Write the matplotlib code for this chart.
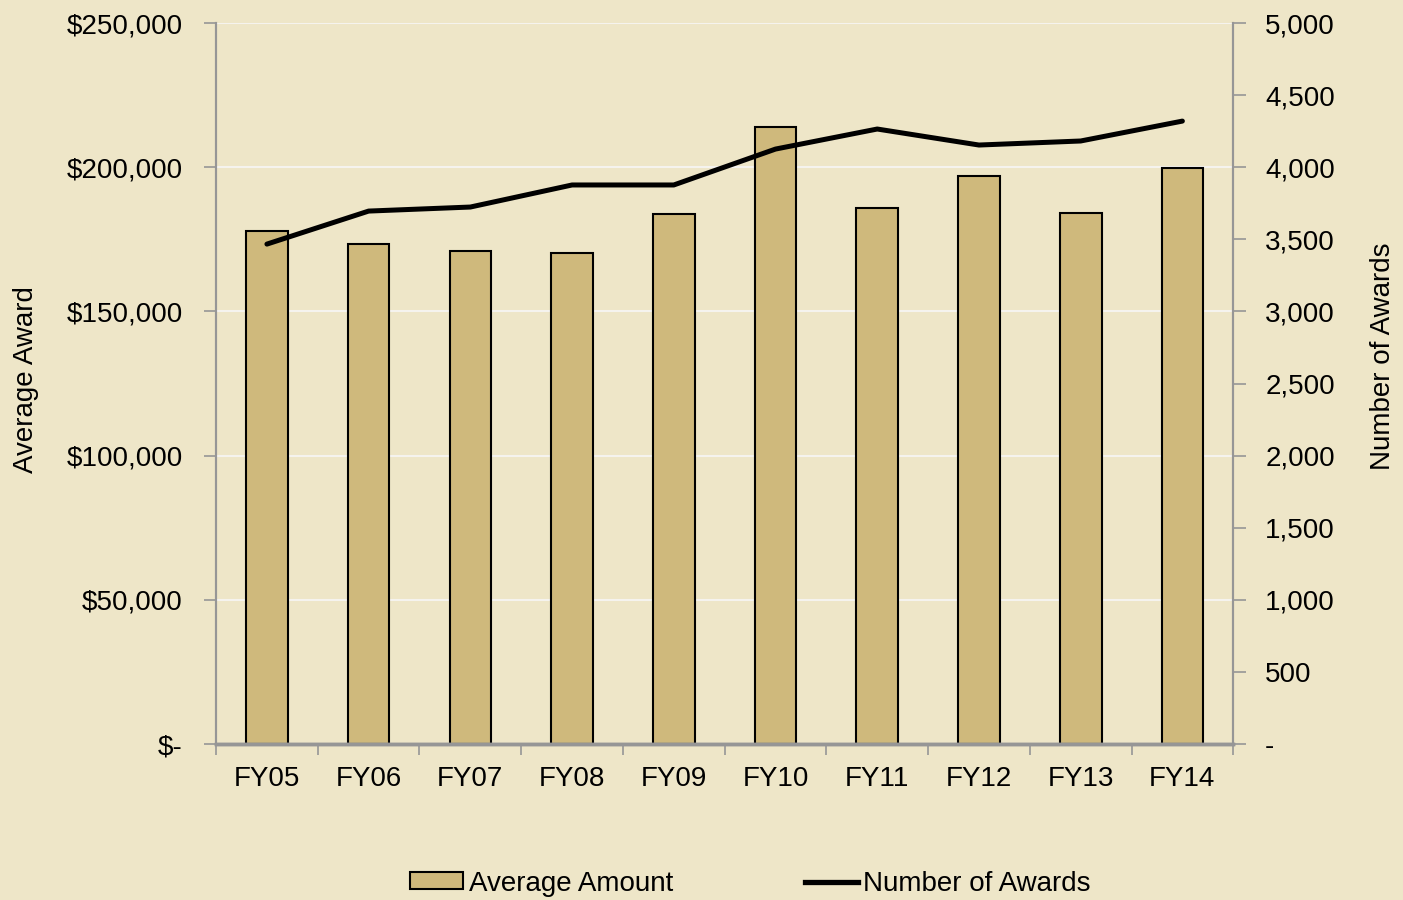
import matplotlib
matplotlib.use("Agg")
import matplotlib.pyplot as plt
from matplotlib.ticker import FuncFormatter, MultipleLocator, FixedLocator
from matplotlib.patches import Patch
from matplotlib.lines import Line2D

years = ["FY05", "FY06", "FY07", "FY08", "FY09", "FY10", "FY11", "FY12", "FY13", "FY14"]
avg_amount = [178000, 173300, 171000, 170300, 183800, 214000, 185900, 197000, 184200, 199800]
num_awards = [3467, 3696, 3724, 3877, 3877, 4126, 4265, 4154, 4182, 4320]

bg = "#EEE6C8"
bar_color = "#CFB97C"
axis_gray = "#969696"

plt.rcParams["font.family"] = ["Liberation Sans", "DejaVu Sans"]
plt.rcParams["font.size"] = 20

fig = plt.figure(figsize=(14.03, 9), dpi=100, facecolor=bg)
ax = fig.add_axes([0.154, 0.1733, 0.725, 0.8011])
ax.set_facecolor(bg)
ax2 = ax.twinx()

x = list(range(len(years)))
ax.bar(x, avg_amount, width=0.41, color=bar_color, edgecolor="black", linewidth=1.5, zorder=2)
ax2.plot(x, num_awards, color="black", linewidth=3.6, solid_capstyle="round", zorder=3)

ax.set_xlim(-0.5, len(years) - 0.5)
ax.set_ylim(0, 250000)
ax2.set_ylim(0, 5000)

ax.yaxis.set_major_locator(MultipleLocator(50000))
ax.yaxis.set_major_formatter(FuncFormatter(lambda v, p: "$-" if v == 0 else f"${v:,.0f}"))
ax2.yaxis.set_major_locator(MultipleLocator(500))
ax2.yaxis.set_major_formatter(FuncFormatter(lambda v, p: "-" if v == 0 else f"{v:,.0f}"))

ax.set_xticks(x)
ax.set_xticklabels(years)
ax.xaxis.set_minor_locator(FixedLocator([i - 0.5 for i in range(len(years) + 1)]))
ax.tick_params(axis="x", which="major", length=0, pad=16)
ax.tick_params(axis="x", which="minor", length=8, color=axis_gray, width=1.2)
ax.tick_params(axis="y", length=9, color=axis_gray, width=1.2, pad=15)
ax2.tick_params(axis="y", length=9, color=axis_gray, width=1.2, pad=14)
for lab in ax2.get_yticklabels():
    lab.set_horizontalalignment("left")

ax.grid(axis="y", color="#F5F3EE", linewidth=1.5, zorder=0)
ax.set_axisbelow(True)

for a in (ax, ax2):
    a.spines["top"].set_visible(False)
    a.spines["left"].set_color(axis_gray)
    a.spines["right"].set_color(axis_gray)
    a.spines["bottom"].set_color(axis_gray)
    a.spines["left"].set_linewidth(1.5)
    a.spines["right"].set_linewidth(1.5)
    a.spines["bottom"].set_linewidth(2.5)
ax2.patch.set_visible(False)

ax.set_ylabel("Average Award")
ax.yaxis.set_label_coords(-0.174, 0.505)
ax2.set_ylabel("Number of Awards")
ax2.yaxis.set_label_coords(1.134, 0.538)

handles = [Patch(facecolor=bar_color, edgecolor="black", linewidth=1.5, label="Average Amount"),
           Line2D([0], [0], color="black", linewidth=3.8, label="Number of Awards")]
fig.legend(handles=handles, loc="lower center", bbox_to_anchor=(0.535, -0.024), ncol=2,
           frameon=False, handlelength=1.9, handleheight=0.55, handletextpad=0.2, columnspacing=4.75)

fig.savefig("out.png", dpi=100, facecolor=bg)
